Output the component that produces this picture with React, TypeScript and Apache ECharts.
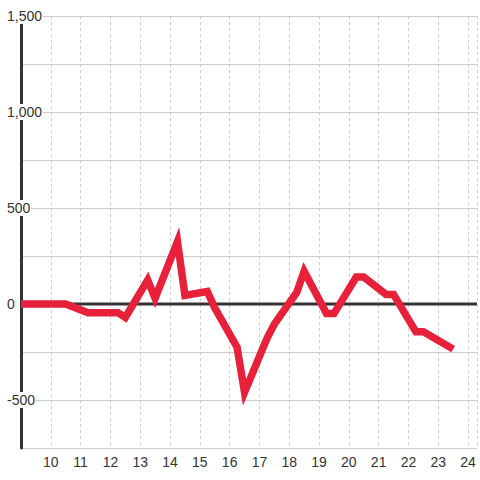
import React, { useEffect, useRef } from "react";
import * as echarts from "echarts";

const hours: number[] = [9, 10.5, 11.25, 12.25, 12.5, 13.25, 13.5, 14.25, 14.5, 15.25, 15.5, 16.25, 16.5, 17.25, 17.5, 18.25, 18.5, 19.25, 19.5, 20.25, 20.5, 21.25, 21.5, 22.25, 22.5, 23.5];
const values: number[] = [0, 0, -45, -45, -70, 125, 30, 325, 45, 65, -20, -225, -460, -180, -105, 60, 170, -50, -50, 140, 140, 50, 50, -145, -145, -235];
const zeroLine: number[][] = [[9, 0], [24.3, 0]];
const xRange = { min: 9, max: 24.3 };
const yRange = { min: -750, max: 1500 };

export default function App() {
  const ref = useRef<HTMLDivElement>(null);
  useEffect(() => {
    if (!ref.current) return;
    const chart = echarts.init(ref.current, undefined, { renderer: "svg" });
    chart.setOption({
      animation: false,
      grid: { left: 21, top: 16, right: 0, height: 432 },
      xAxis: {
        type: "value",
        min: xRange.min,
        max: xRange.max,
        interval: 1,
        axisLine: { show: false },
        axisTick: { show: false },
        axisLabel: {
          margin: 7,
          fontSize: 14,
          color: "#333",
          fontFamily: "Liberation Sans, Arial, sans-serif",
          formatter: (v: number) => (v === 9 || v % 1 !== 0 ? "" : String(v)),
        },
        splitLine: { show: true, lineStyle: { color: "#ccc", width: 1, type: [3, 3] } },
      },
      yAxis: {
        type: "value",
        min: yRange.min,
        max: yRange.max,
        interval: 250,
        axisLine: { show: true, lineStyle: { color: "#333", width: 3 } },
        axisTick: { show: false },
        axisLabel: {
          align: "left",
          margin: 15,
          fontSize: 14,
          color: "#333",
          fontFamily: "Liberation Sans, Arial, sans-serif",
          backgroundColor: "#fff",
          padding: [1, 1],
          formatter: (v: number) => (v % 500 === 0 && v !== -750 ? v.toLocaleString("en-US") : ""),
        },
        splitLine: { show: true, lineStyle: { color: "#ccc", width: 1 } },
      },
      series: [
        {
          type: "line",
          data: zeroLine,
          showSymbol: false,
          silent: true,
          z: 1,
          lineStyle: { color: "#333", width: 3 },
        },
        {
          type: "line",
          data: hours.map((h, i) => [h, values[i]]),
          showSymbol: false,
          z: 3,
          lineStyle: { color: "#E8213A", width: 7.5, join: "miter" },
        },
      ],
    });
    return () => chart.dispose();
  }, []);
  return <div ref={ref} style={{ width: 480, height: 480, position: "absolute", left: 0, top: 0 }} />;
}
